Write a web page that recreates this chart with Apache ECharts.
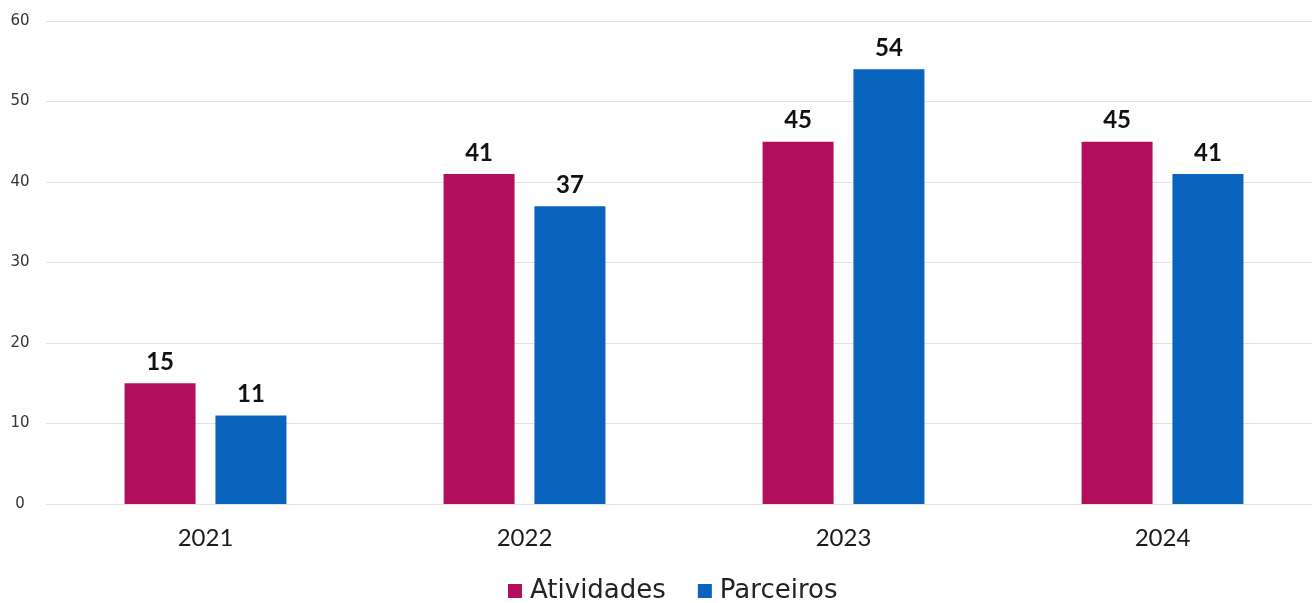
<!DOCTYPE html>
<html>
<head>
<meta charset="utf-8">
<script src="https://cdn.jsdelivr.net/npm/echarts@6/dist/echarts.min.js"></script>
<style>
html,body{margin:0;padding:0;background:#fff;overflow:hidden;width:1312px;height:603px;}
#chart{width:1322px;height:603px;}
</style>
</head>
<body>
<div id="chart"></div>
<script>
const categories = ['2021', '2022', '2023', '2024'];
const atividades = [15, 41, 45, 45];
const parceiros = [11, 37, 54, 41];
const seriesNames = ['Atividades', 'Parceiros'];
const yTicks = [0, 10, 20, 30, 40, 50, 60];

const chart = echarts.init(document.getElementById('chart'));
const labelStyle = {
  show: true,
  position: 'top',
  distance: 9,
  color: '#111',
  fontSize: 24,
  fontWeight: 'bold',
  fontFamily: 'Lato, "Open Sans", sans-serif'
};
chart.setOption({
  animation: false,
  backgroundColor: '#ffffff',
  legend: {
    data: seriesNames,
    top: 578,
    left: 508,
    padding: 0,
    itemWidth: 14,
    itemHeight: 14,
    itemGap: 32,
    icon: 'rect',
    textStyle: { fontSize: 26, color: '#222', padding: [0, 0, 0, 3], fontFamily: '"DejaVu Sans", sans-serif' }
  },
  grid: { left: 46, right: 0, top: 21, bottom: 99, containLabel: false },
  xAxis: {
    type: 'category',
    data: categories,
    axisLine: { show: false },
    axisTick: { show: false },
    axisLabel: { fontSize: 24, color: '#1a1a1a', margin: 22, fontFamily: 'Lato, "Open Sans", sans-serif' }
  },
  yAxis: {
    type: 'value',
    min: yTicks[0],
    max: yTicks[yTicks.length - 1],
    interval: 10,
    axisLine: { show: false },
    axisTick: { show: false },
    splitLine: { lineStyle: { color: '#e3e3e3', width: 1 } },
    axisLabel: { fontSize: 15, color: '#333', align: 'center', margin: 26, fontFamily: '"DejaVu Sans", sans-serif' }
  },
  series: [
    {
      name: seriesNames[0],
      type: 'bar',
      data: atividades,
      barWidth: 71,
      barGap: '28%',
      itemStyle: { color: '#B30E5E' },
      label: labelStyle
    },
    {
      name: seriesNames[1],
      type: 'bar',
      data: parceiros,
      barWidth: 71,
      barGap: '28%',
      itemStyle: { color: '#0A64BE' },
      label: labelStyle
    }
  ]
});
</script>
</body>
</html>
